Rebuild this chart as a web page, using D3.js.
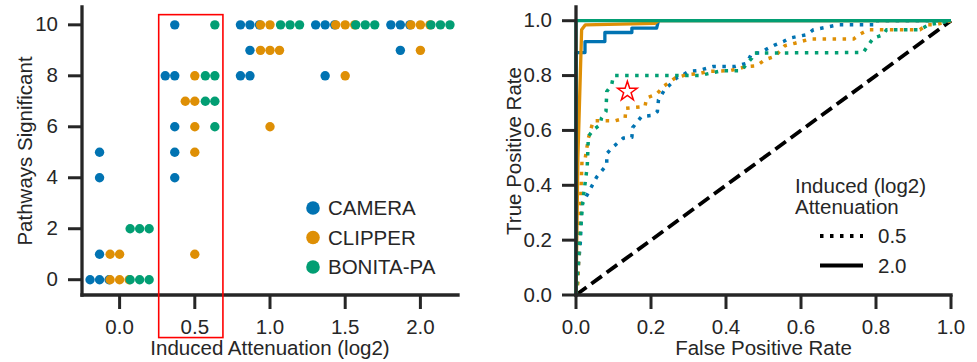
<!DOCTYPE html>
<html>
<head>
<meta charset="utf-8">
<script src="https://cdn.jsdelivr.net/npm/d3@7"></script>
<style>
  body { margin: 0; background: #fff; }
  text { font-family: 'Liberation Sans', Arial, sans-serif; fill: #262626; }
</style>
</head>
<body>
<div id="my_dataviz"></div>
<script>
// ---- data ----
var methods = ["CAMERA", "CLIPPER", "BONITA-PA"];
var colors = ["#0173b2", "#de8f05", "#029e73"];
var attenuations = [0, 0.5, 1.0, 1.5, 2.0];

// pathways significant, one list per attenuation level
var cameraHits = [[0, 0, 0, 1, 4, 5], [10, 8, 8, 6, 5, 4], [10, 10, 10, 9, 8, 8], [10, 10, 10, 8], [10, 10, 10, 9]];
var clipperHits = [[0, 0, 0, 1, 1], [8, 7, 7, 6, 5, 1], [10, 10, 9, 9, 9, 6], [10, 10, 10, 8], [10, 10, 10, 9]];
var bonitaHits = [[0, 0, 0, 2, 2, 2], [10, 8, 8, 7, 7, 6], [10, 10, 10], [10, 10, 10], [10, 10, 10]];

var leftYTicks = [0, 2, 4, 6, 8, 10];
var leftXTicks = [0, 0.5, 1.0, 1.5, 2.0];
var rocTicks = [0, 0.2, 0.4, 0.6, 0.8, 1.0];

// ROC curves [fpr, tpr]
var camera05 = [[0,0],[0.012,0.2],[0.015,0.33],[0.02,0.34],[0.055,0.43],[0.082,0.474],[0.082,0.515],[0.095,0.535],[0.126,0.572],[0.149,0.575],[0.151,0.61],[0.175,0.651],[0.204,0.655],[0.217,0.669],[0.22,0.712],[0.237,0.75],[0.255,0.772],[0.268,0.791],[0.286,0.803],[0.3,0.815],[0.326,0.818],[0.366,0.833],[0.424,0.833],[0.455,0.845],[0.469,0.882],[0.489,0.882],[0.513,0.9],[0.531,0.912],[0.553,0.924],[0.571,0.937],[0.615,0.949],[0.633,0.967],[0.7,0.985],[0.8,0.985],[0.8,1],[1,1]];
var clipper05 = [[0,0],[0.005,0.044],[0.016,0.49],[0.024,0.493],[0.033,0.572],[0.046,0.635],[0.104,0.635],[0.131,0.645],[0.133,0.681],[0.184,0.687],[0.188,0.718],[0.215,0.732],[0.233,0.76],[0.264,0.791],[0.295,0.803],[0.322,0.806],[0.353,0.815],[0.411,0.818],[0.455,0.833],[0.482,0.836],[0.504,0.858],[0.531,0.87],[0.557,0.909],[0.584,0.918],[0.624,0.933],[0.74,0.933],[0.757,0.951],[0.78,0.967],[0.917,0.967],[0.935,0.985],[0.957,0.985],[1,1]];
var bonita05 = [[0,0],[0.01,0.2],[0.018,0.34],[0.03,0.47],[0.033,0.578],[0.046,0.602],[0.064,0.62],[0.068,0.645],[0.08,0.669],[0.082,0.742],[0.095,0.766],[0.1,0.8],[0.33,0.8],[0.366,0.811],[0.389,0.818],[0.442,0.818],[0.453,0.839],[0.469,0.864],[0.473,0.882],[0.766,0.884],[0.78,0.912],[0.793,0.937],[0.82,0.949],[0.828,0.967],[0.917,0.967],[0.94,0.985],[1,1]];
var camera20 = [[0,0],[0,0.884],[0.024,0.884],[0.024,0.924],[0.077,0.924],[0.077,0.957],[0.149,0.957],[0.149,0.973],[0.215,0.973],[0.22,1],[1,1]];
var clipper20 = [[0,0],[0.005,0.5],[0.015,0.967],[0.025,0.985],[0.21,0.99],[0.22,1],[1,1]];
var bonita20 = [[0,0],[0,1],[1,1]];

var chancePoints = [[0, 0], [1, 1]];
var starPoint = [0.137, 0.742];
var highlight = {x0: 0.26, x1: 0.687, y0: -2.27, y1: 10.4};

// ---- page ----
var W = 977, H = 362;
var svg = d3.select("#my_dataviz")
  .append("svg")
    .attr("width", W)
    .attr("height", H);

var fontSize = 20.5;
var axisColor = "#262626";

function styleAxis(g) {
  g.select(".domain").attr("stroke", axisColor).attr("stroke-width", 3.3).attr("stroke-linecap", "square");
  g.selectAll(".tick line").attr("stroke", axisColor).attr("stroke-width", 3);
  g.selectAll(".tick text").attr("fill", axisColor).style("font-size", fontSize + "px")
    .style("font-family", "'Liberation Sans', Arial, sans-serif");
}

// ================= left panel: swarm =================
var x1 = d3.scaleLinear().domain([-0.25, 2.25]).range([82, 458]);
var y1 = d3.scaleLinear().domain([-0.6, 10.7]).range([295, 7]);
var hueOffset = [-0.1333, 0, 0.1333];
var dotStep = 9.5;

var left = svg.append("g");

// swarm: repeated values go centre, left, right, left, ...
function swarm(values) {
  var seen = {};
  return values.map(function(v) {
    var k = seen[v] || 0;
    seen[v] = k + 1;
    return {y: v, step: Math.ceil(k / 2) * (k % 2 ? -1 : 1)};
  });
}

[cameraHits, clipperHits, bonitaHits].forEach(function(hits, m) {
  attenuations.forEach(function(a, i) {
    left.selectAll(null)
      .data(swarm(hits[i]))
      .enter()
      .append("circle")
        .attr("cx", function(d) { return x1(a + hueOffset[m]) + d.step * dotStep; })
        .attr("cy", function(d) { return y1(d.y); })
        .attr("r", 4.7)
        .attr("fill", colors[m]);
  });
});

left.append("g")
  .attr("transform", "translate(" + x1.range()[0] + ",0)")
  .call(d3.axisLeft(y1).tickValues(leftYTicks).tickSize(14).tickSizeOuter(0).tickPadding(10).offset(0).tickFormat(d3.format("d")))
  .call(styleAxis);

left.append("g")
  .attr("transform", "translate(0," + y1.range()[0] + ")")
  .call(d3.axisBottom(x1).tickValues(leftXTicks).tickSize(14).tickSizeOuter(0).tickPadding(10).offset(0).tickFormat(d3.format(".1f")))
  .call(styleAxis);

// highlight box around 0.5
left.append("rect")
  .attr("x", x1(highlight.x0))
  .attr("y", y1(highlight.y1))
  .attr("width", x1(highlight.x1) - x1(highlight.x0))
  .attr("height", y1(highlight.y0) - y1(highlight.y1))
  .attr("fill", "none")
  .attr("stroke", "#ff0000")
  .attr("stroke-width", 1.6);

left.append("text")
  .attr("transform", "translate(32," + ((y1.range()[0] + y1.range()[1]) / 2) + ") rotate(-90)")
  .attr("text-anchor", "middle")
  .style("font-size", fontSize + "px")
  .text("Pathways Significant");

left.append("text")
  .attr("x", (x1.range()[0] + x1.range()[1]) / 2)
  .attr("y", 355)
  .attr("text-anchor", "middle")
  .style("font-size", fontSize + "px")
  .text("Induced Attenuation (log2)");

var leg1 = left.selectAll(".leg1")
  .data(methods)
  .enter()
  .append("g")
    .attr("transform", function(d, i) { return "translate(313," + (208 + i * 29.5) + ")"; });
leg1.append("circle").attr("r", 6.8).attr("fill", function(d, i) { return colors[i]; });
leg1.append("text")
  .attr("x", 15)
  .attr("dy", "0.35em")
  .style("font-size", fontSize + "px")
  .text(function(d) { return d; });

// ================= right panel: ROC =================
var x2 = d3.scaleLinear().domain([0, 1]).range([576, 951]);
var y2 = d3.scaleLinear().domain([0, 1.05]).range([295, 7]);
var right = svg.append("g");

var line = d3.line()
  .x(function(d) { return x2(d[0]); })
  .y(function(d) { return y2(d[1]); });

var dotted = "3.5,6.5";
var curves = [
  {pts: camera05, c: 0, dash: dotted},
  {pts: camera20, c: 0, dash: null},
  {pts: clipper05, c: 1, dash: dotted},
  {pts: clipper20, c: 1, dash: null},
  {pts: bonita05, c: 2, dash: dotted},
  {pts: bonita20, c: 2, dash: null}
];

right.append("path")
  .attr("d", line(chancePoints))
  .attr("fill", "none")
  .attr("stroke", "#000")
  .attr("stroke-width", 3.8)
  .attr("stroke-dasharray", "13,6");

right.selectAll(".roc")
  .data(curves)
  .enter()
  .append("path")
    .attr("d", function(d) { return line(d.pts); })
    .attr("fill", "none")
    .attr("stroke", function(d) { return colors[d.c]; })
    .attr("stroke-width", function(d) { return d.dash ? 3.5 : 3.3; })
    .attr("stroke-linejoin", "round")
    .attr("stroke-dasharray", function(d) { return d.dash; });

right.append("path")
  .attr("d", d3.symbol(d3.symbolStar, 118)())
  .attr("transform", "translate(" + x2(starPoint[0]) + "," + y2(starPoint[1]) + ")")
  .attr("fill", "none")
  .attr("stroke", "#ff0000")
  .attr("stroke-width", 1.5);

right.append("g")
  .attr("transform", "translate(" + x2.range()[0] + ",0)")
  .call(d3.axisLeft(y2).tickValues(rocTicks).tickSize(14).tickSizeOuter(0).tickPadding(10).offset(0).tickFormat(d3.format(".1f")))
  .call(styleAxis);

right.append("g")
  .attr("transform", "translate(0," + y2.range()[0] + ")")
  .call(d3.axisBottom(x2).tickValues(rocTicks).tickSize(14).tickSizeOuter(0).tickPadding(10).offset(0).tickFormat(d3.format(".1f")))
  .call(styleAxis);

right.append("text")
  .attr("transform", "translate(521," + ((y2.range()[0] + y2.range()[1]) / 2) + ") rotate(-90)")
  .attr("text-anchor", "middle")
  .style("font-size", fontSize + "px")
  .text("True Positive Rate");

right.append("text")
  .attr("x", (x2.range()[0] + x2.range()[1]) / 2)
  .attr("y", 355)
  .attr("text-anchor", "middle")
  .style("font-size", fontSize + "px")
  .text("False Positive Rate");

// legend for line styles
right.append("text").attr("x", 795).attr("y", 193).style("font-size", fontSize + "px").text("Induced (log2)");
right.append("text").attr("x", 795).attr("y", 214).style("font-size", fontSize + "px").text("Attenuation");

var leg2 = right.selectAll(".leg2")
  .data([{label: "0.5", dash: dotted}, {label: "2.0", dash: null}])
  .enter()
  .append("g")
    .attr("transform", function(d, i) { return "translate(820," + (236 + i * 29.5) + ")"; });
leg2.append("line")
  .attr("x1", 0).attr("x2", 43)
  .attr("stroke", "#000")
  .attr("stroke-width", 3.8)
  .attr("stroke-dasharray", function(d) { return d.dash; });
leg2.append("text")
  .attr("x", 58)
  .attr("dy", "0.35em")
  .style("font-size", fontSize + "px")
  .text(function(d) { return d.label; });
</script>
</body>
</html>
